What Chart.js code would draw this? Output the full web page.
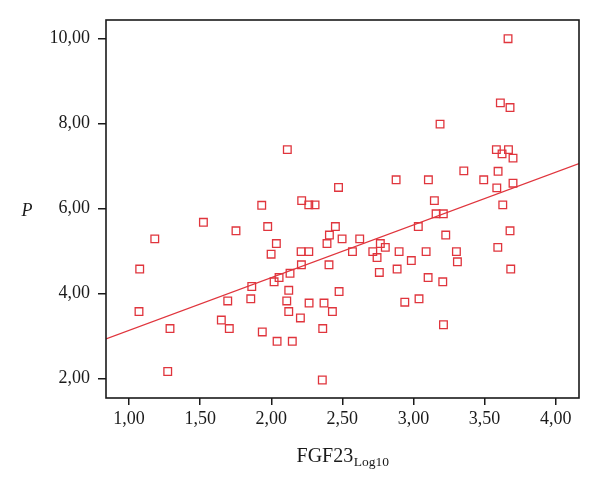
<!DOCTYPE html>
<html>
<head>
<meta charset="utf-8">
<script src="https://cdn.jsdelivr.net/npm/chart.js@4.4.1/dist/chart.umd.min.js"></script>
<style>
html,body{margin:0;padding:0;background:#fff;}
#wrap{position:relative;width:600px;height:484px;}
</style>
</head>
<body>
<div id="wrap"><canvas id="c" width="600" height="484"></canvas></div>
<script>
// FGF23 (log10) values
const fgf23Log10 = [2.113,2.473,1.933,2.214,2.264,2.308,3.665,3.611,3.679,3.187,
  2.878,3.105,3.354,3.494,3.595,3.583,3.623,3.668,3.700,3.586,
  3.700,3.147,3.628,3.159,3.210,3.034,3.679,3.227,1.523,1.181,
  1.752,1.975,2.036,1.999,2.210,2.264,2.212,2.132,2.055,2.020,
  2.451,2.409,2.392,2.498,2.406,2.477,1.075,1.070,1.288,1.272,
  1.649,1.705,1.694,1.863,1.856,1.937,2.041,2.148,2.123,2.109,
  2.123,2.266,2.205,2.371,2.430,2.362,2.359,2.571,2.622,2.767,
  2.802,2.714,2.744,2.760,2.899,2.885,2.985,3.089,3.103,3.206,
  3.302,3.309,2.939,3.039,3.211,3.593,3.684];
// P values
const pValues = [7.39,6.50,6.08,6.19,6.09,6.09,10.00,8.49,8.38,7.99,
  6.68,6.68,6.89,6.68,6.88,7.39,7.29,7.39,7.19,6.49,
  6.60,6.19,6.09,5.88,5.88,5.58,5.48,5.38,5.68,5.29,
  5.48,5.58,5.18,4.93,4.99,4.99,4.68,4.48,4.38,4.28,
  5.58,5.38,5.18,5.29,4.68,4.05,4.58,3.58,3.18,2.17,
  3.38,3.18,3.83,4.17,3.88,3.10,2.88,2.88,4.08,3.83,
  3.58,3.78,3.43,3.78,3.58,3.18,1.97,4.99,5.29,5.18,
  5.09,4.99,4.85,4.50,4.99,4.58,4.78,4.99,4.38,4.28,
  4.99,4.75,3.80,3.88,3.27,5.09,4.58];
// Fit line end points
const fitX = [0.838, 4.164];
const fitY = [2.934, 7.06];
// Axis ranges and tick steps
const xRange = [0.838, 4.164];
const yRange = [1.546, 10.44];
const xStep = 0.5;
const yStep = 2;
const xTitleMain = 'FGF23';
const xTitleSub = 'Log10';
const yTitle = 'P';

const RED = '#e0353d';
const INK = '#1a1a1a';
const FONT = '"Liberation Serif", "Times New Roman", serif';

const points = fgf23Log10.map((x, i) => ({x: x, y: pValues[i]}));
const fitLine = fitX.map((x, i) => ({x: x, y: fitY[i]}));
const fmt = v => Number(v).toFixed(2).replace('.', ',');

const framePlugin = {
  id: 'frame',
  afterDraw(chart) {
    const ctx = chart.ctx, a = chart.chartArea;
    ctx.save();
    ctx.strokeStyle = INK;
    ctx.lineWidth = 1.6;
    ctx.strokeRect(a.left, a.top, a.right - a.left, a.bottom - a.top);
    // x axis title with subscript
    ctx.fillStyle = INK;
    ctx.textBaseline = 'alphabetic';
    ctx.font = '20px ' + FONT;
    const wMain = ctx.measureText(xTitleMain).width;
    ctx.font = '13.5px ' + FONT;
    const wSub = ctx.measureText(xTitleSub).width;
    const cx = (a.left + a.right) / 2;
    const x0 = cx - (wMain + wSub) / 2;
    ctx.font = '20px ' + FONT;
    ctx.textAlign = 'left';
    ctx.fillText(xTitleMain, x0, 461.7);
    ctx.font = '13.5px ' + FONT;
    ctx.fillText(xTitleSub, x0 + wMain + 0.5, 466);
    // y axis title (upright position, italic)
    ctx.font = 'italic 18px ' + FONT;
    ctx.textAlign = 'center';
    ctx.fillText(yTitle, 27, 216);
    ctx.restore();
  }
};

new Chart(document.getElementById('c'), {
  type: 'scatter',
  data: {
    datasets: [
      {
        type: 'scatter',
        data: points,
        pointStyle: 'rect',
        pointRadius: 5.4,
        pointHoverRadius: 5.4,
        pointBorderWidth: 1.3,
        pointBorderColor: RED,
        pointBackgroundColor: 'rgba(255,255,255,0)',
        order: 1
      },
      {
        type: 'line',
        data: fitLine,
        borderColor: RED,
        borderWidth: 1.3,
        pointRadius: 0,
        fill: false,
        tension: 0,
        order: 2
      }
    ]
  },
  options: {
    responsive: false,
    animation: false,
    events: [],
    layout: {padding: {top: 20, right: 21, left: 0, bottom: 0}},
    plugins: {legend: {display: false}, tooltip: {enabled: false}},
    scales: {
      x: {
        type: 'linear',
        min: xRange[0], max: xRange[1],
        afterFit(s) { s.height = 86; },
        border: {display: false},
        grid: {display: true, drawOnChartArea: false, drawTicks: true, tickLength: 7, color: INK, lineWidth: 1.5},
        ticks: {stepSize: xStep, includeBounds: false, color: INK, padding: 3, maxRotation: 0,
          font: {family: FONT, size: 18}, callback: v => fmt(v)}
      },
      y: {
        type: 'linear',
        min: yRange[0], max: yRange[1],
        afterFit(s) { s.width = 106; },
        border: {display: false},
        grid: {display: true, drawOnChartArea: false, drawTicks: true, tickLength: 8, color: INK, lineWidth: 1.5},
        ticks: {stepSize: yStep, includeBounds: false, color: INK, padding: 8,
          font: {family: FONT, size: 18}, callback: v => fmt(v)}
      }
    }
  },
  plugins: [framePlugin]
});
</script>
</body>
</html>
